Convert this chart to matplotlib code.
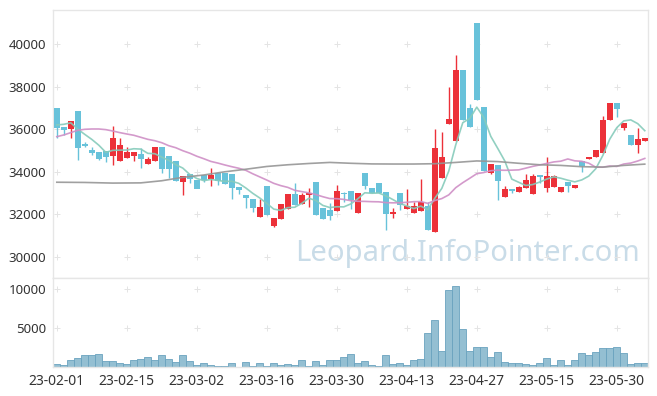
import numpy as np
import pandas as pd
import matplotlib
matplotlib.use('Agg')
import matplotlib.pyplot as plt

plt.rcParams['font.family'] = ['Noto Sans', 'DejaVu Sans']

# 거래일 (KRX 휴장일 제외)
holidays = ['2023-03-01', '2023-05-01', '2023-05-05', '2023-05-29']
dates = pd.bdate_range('2023-02-01', '2023-06-05', freq='C', holidays=holidays)

opens = [37010, 36110, 35995, 36855, 35320, 35020, 34930, 35000, 34740, 34525,
         34670, 34760, 34835, 34385, 34525, 35180, 34760, 34500, 33500, 33920,
         33620, 33870, 33680, 33950, 33950, 33890, 33270, 32910, 32720, 31890,
         33355, 31470, 31800, 32270, 32955, 32465, 32895, 33505, 32285, 32205,
         32160, 33020, 33085, 32050, 33950, 33260, 33475, 33070, 32005, 33005,
         32270, 32080, 32160, 32400, 31190, 33720, 36260, 35460, 38780, 36980,
         41000, 37040, 33960, 34320, 32800, 33190, 33050, 33260, 32955, 33870,
         33260, 33305, 33035, 33520, 33260, 34505, 34585, 34680, 34895, 36430,
         37245, 36070, 35730, 35260, 35460]
highs = [37010, 36110, 36400, 36855, 35415, 35150, 34930, 35000, 36165, 35570,
         35150, 34915, 35105, 34680, 35180, 35180, 34760, 34500, 33810, 33920,
         33620, 33870, 34165, 33950, 33950, 33890, 33270, 32910, 32720, 32710,
         33355, 31815, 32485, 32955, 33460, 33005, 33225, 33505, 32285, 32520,
         33380, 33070, 33085, 32990, 33950, 33260, 33475, 33070, 32285, 33005,
         33190, 32595, 33660, 32595, 36010, 35860, 37965, 39485, 38780, 37170,
         41000, 37040, 34365, 34320, 33330, 33190, 33330, 33885, 33915, 33870,
         34710, 33850, 33285, 33520, 33380, 34505, 34710, 35020, 36620, 37245,
         37245, 36305, 35730, 36040, 35600]
lows = [35570, 35750, 35600, 34550, 35150, 34790, 34540, 34450, 34305, 34525,
        34670, 34500, 34165, 34385, 34525, 33960, 33725, 33590, 32910, 33490,
        33225, 33520, 33310, 33380, 33440, 32710, 32955, 32285, 32115, 31890,
        31985, 31420, 31800, 32270, 32440, 32465, 32360, 31985, 31785, 31740,
        32160, 32580, 32230, 32050, 33180, 32990, 33020, 31265, 31815, 32205,
        32270, 32080, 32160, 31265, 31190, 33720, 36260, 35460, 36430, 36120,
        37370, 34040, 33900, 32675, 32800, 33020, 33050, 33260, 32955, 33460,
        33070, 33305, 33035, 33070, 33260, 33975, 34585, 34680, 34895, 36430,
        36590, 35960, 35260, 34895, 35460]
closes = [36070, 35970, 36385, 35130, 35225, 34895, 34615, 34700, 35600, 35270,
          34930, 34915, 34615, 34605, 35180, 34145, 34145, 33590, 33810, 33675,
          33215, 33635, 33870, 33575, 33440, 33260, 33145, 32785, 32310, 32345,
          31985, 31815, 32485, 32955, 32440, 32910, 32990, 31985, 31785, 31940,
          33100, 32955, 32675, 32990, 33355, 32990, 33020, 32005, 32125, 32440,
          32395, 32395, 32595, 31265, 35130, 34710, 36480, 38780, 36430, 36120,
          37370, 34040, 34365, 33580, 33190, 33110, 33285, 33620, 33810, 33775,
          33810, 33810, 33285, 33350, 33380, 34270, 34710, 35020, 36430, 37245,
          36950, 36305, 35260, 35540, 35600]
volumes = [384, 256, 897, 1153, 1537, 1537, 1665, 769, 769, 512,
           384, 897, 1025, 1281, 897, 1537, 1025, 640, 1537, 769,
           256, 512, 256, 128, 128, 512, 40, 640, 128, 512,
           128, 512, 256, 384, 256, 897, 128, 769, 256, 897,
           897, 1281, 1665, 512, 811, 256, 128, 1537, 384, 512,
           256, 939, 1025, 4355, 6020, 2092, 9864, 10376, 4868, 2092,
           2562, 2562, 1281, 1922, 640, 512, 512, 384, 256, 512,
           1153, 256, 897, 256, 897, 1793, 1537, 1922, 2434, 2434,
           2562, 1793, 384, 512, 512]

# 이동평균 앞부분 (이전 데이터 없음 -> 차트에서 읽은 값)
ma5_head = [36200, 36230, 36300, 36000]
ma20_head = [35650, 35730, 35840, 35950, 35995, 36010, 36010, 35980, 35915, 35840,
             35775, 35715, 35620, 35525, 35460, 35365, 35225, 35130, 34990]
ma_long_idx = [0, 4, 8, 12, 15, 18, 21, 24, 27, 30, 33, 36, 39, 42, 45, 48, 51, 54,
               57, 60, 63, 66, 69, 72, 75, 78, 81, 84]
ma_long_vals = [33510, 33500, 33470, 33480, 33580, 33740, 33850, 34000, 34120, 34250,
                34330, 34390, 34440, 34400, 34370, 34365, 34365, 34380, 34440, 34510,
                34480, 34400, 34330, 34300, 34240, 34220, 34300, 34360]

x = np.arange(len(closes))
o = np.array(opens); c = np.array(closes)
s = pd.Series(closes, dtype=float)
ma5 = s.rolling(5).mean().to_numpy()
ma5[:4] = ma5_head
ma20 = s.rolling(20).mean().to_numpy()
ma20[:19] = ma20_head

RED = '#ec3139'
BLUE = '#68c2da'
GRID = '#e4e4e4'
up = c >= o
colors = np.where(up, RED, BLUE)

fig = plt.figure(figsize=(6.57, 3.96), dpi=100)
ax = fig.add_axes([0.0807, 0.298, 0.9056, 0.6767])
axv = fig.add_axes([0.0807, 0.0725, 0.9056, 0.2255], sharex=ax)

# 워터마크
ax.text(0.697, 0.09, 'Leopard.InfoPointer.com', transform=ax.transAxes,
        ha='center', va='center', fontsize=21, color='#c9dce8', zorder=0)

# 캔들
ax.vlines(x, lows, highs, colors=colors, linewidth=1, zorder=2)
body = np.maximum(np.abs(c - o), 60)
ax.bar(x, body, bottom=np.minimum(o, c), width=0.78, color=colors, zorder=3)

# 이동평균선
ax.plot(x, ma5, color='#86cbbb', lw=1.2, alpha=0.9, zorder=4)
ax.plot(x, ma20, color='#cf8fc6', lw=1.2, alpha=0.9, zorder=4)
ax.plot(ma_long_idx, ma_long_vals, color='#969696', lw=1.2, alpha=0.9, zorder=4)

# 거래량
axv.bar(x, volumes, width=1.0, color='#94bfd2', edgecolor='#6aa3bf', linewidth=0.6)

xt = np.arange(0, len(x), 10)
yt = [30000, 32000, 34000, 36000, 38000, 40000]
vt = [5000, 10000]

ax.set_xlim(-0.54, 84.46)
ax.set_ylim(29014, 41596)
axv.set_ylim(0, 11450)

# 십자 그리드
gx, gy = np.meshgrid(xt, yt)
ax.plot(gx.ravel(), gy.ravel(), '+', color=GRID, ms=4.5, mew=0.7, zorder=1)
gx, gy = np.meshgrid(xt, vt)
axv.plot(gx.ravel(), gy.ravel(), '+', color=GRID, ms=4.5, mew=0.7, zorder=0)

ax.set_yticks(yt)
ax.set_yticklabels([str(v) for v in yt])
axv.set_yticks(vt)
axv.set_yticklabels([str(v) for v in vt])
axv.set_xticks(xt)
axv.set_xticklabels([dates[i].strftime('%y-%m-%d') for i in xt])
ax.tick_params(axis='x', labelbottom=False, length=0)
for a in (ax, axv):
    a.tick_params(axis='y', length=0, pad=5, labelsize=9.5, labelcolor='#333333')
    for sp in a.spines.values():
        sp.set_color('#e6e6e6')
        sp.set_linewidth(1)
axv.tick_params(axis='x', length=0, pad=5, labelsize=10, labelcolor='#333333')

fig.savefig('out.png', dpi=100, facecolor='white')
